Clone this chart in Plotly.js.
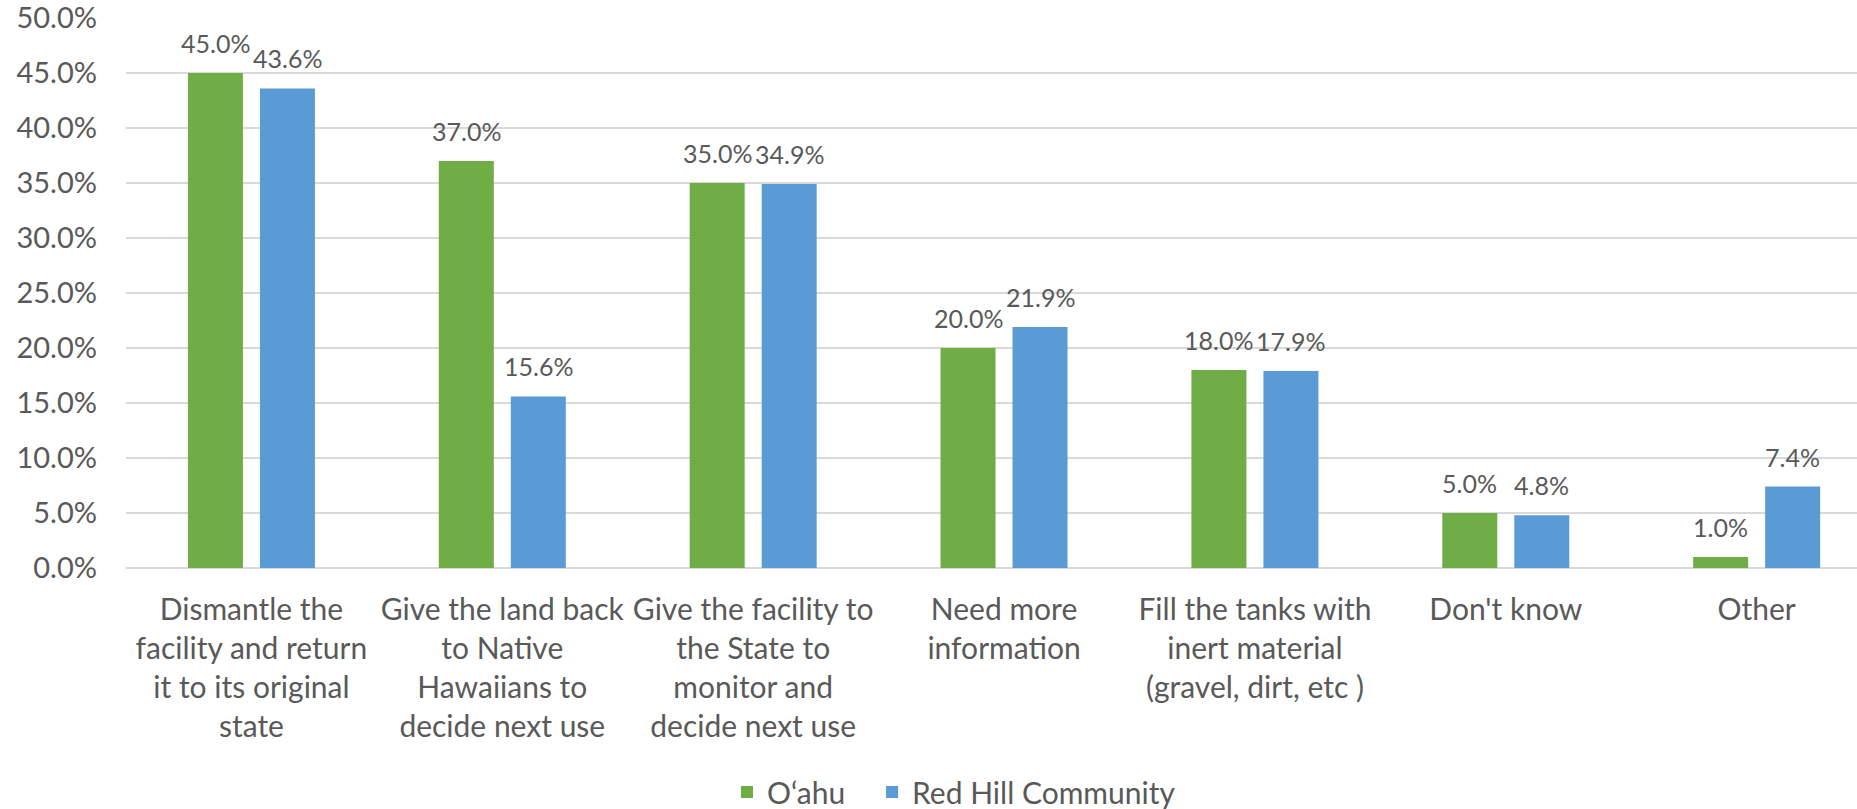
<!DOCTYPE html>
<html>
<head>
<meta charset="utf-8">
<script src="https://cdn.plot.ly/plotly-3.0.1.min.js"></script>
<style>html,body{margin:0;padding:0;background:#fff;}#chart{width:1857px;height:809px;}</style>
</head>
<body>
<div id="chart"></div>
<script>
const categories = [
  "Dismantle the<br>facility and return<br>it to its original<br>state",
  "Give the land back<br>to Native<br>Hawaiians to<br>decide next use",
  "Give the facility to<br>the State to<br>monitor and<br>decide next use",
  "Need more<br>information",
  "Fill the tanks with<br>inert material<br>(gravel, dirt, etc )",
  "Don't know",
  "Other"
];
const seriesNames = ["O\u2018ahu", "Red Hill Community"];
const oahu = [0.45, 0.37, 0.35, 0.20, 0.18, 0.05, 0.01];
const redHill = [0.436, 0.156, 0.349, 0.219, 0.179, 0.048, 0.074];
const yTicks = [0, 0.05, 0.10, 0.15, 0.20, 0.25, 0.30, 0.35, 0.40, 0.45, 0.50];

const colors = ["#70AD47", "#5B9BD5"];
const txt = "#595959";
const FONT = "Lato, 'Open Sans', sans-serif";
const bargap = 0.426, bargroupgap = 0.236;

const traces = [oahu, redHill].map((vals, i) => ({
  type: "bar",
  name: seriesNames[i],
  legend: i === 0 ? "legend" : "legend2",
  x: categories,
  y: vals,
  marker: {color: colors[i]},
  textposition: "none",
  hoverinfo: "skip"
}));

const slot = (1 - bargap) / 2;
const annotations = [];
[oahu, redHill].forEach((vals, s) => {
  vals.forEach((v, k) => {
    annotations.push({
      x: k + (s === 0 ? -slot / 2 : slot / 2),
      y: v,
      xref: "x", yref: "y",
      text: (v * 100).toFixed(1) + "%",
      showarrow: false,
      yanchor: "bottom",
      yshift: 13,
      font: {family: FONT, size: 25, color: txt}
    });
  });
});

const legendBase = {
  orientation: "h",
  xref: "container", xanchor: "left",
  yref: "container", y: 0.021, yanchor: "middle",
  font: {family: FONT, size: 30, color: txt},
  itemwidth: 30
};

const layout = {
  width: 1857, height: 809,
  margin: {l: 126, r: 0, t: 18, b: 241},
  paper_bgcolor: "#fff", plot_bgcolor: "#fff",
  barmode: "group",
  bargap: bargap, bargroupgap: bargroupgap,
  showlegend: true,
  legend: Object.assign({}, legendBase, {x: 0.3915}),
  legend2: Object.assign({}, legendBase, {x: 0.4696}),
  xaxis: {
    type: "category",
    range: [-0.5, 6.4],
    showgrid: false,
    showline: false,
    zeroline: false,
    ticks: "",
    tickangle: 0,
    ticklabelstandoff: 21,
    tickfont: {family: FONT, size: 30, color: txt}
  },
  yaxis: {
    range: [0, 0.5],
    tickvals: yTicks,
    tickformat: ".1%",
    showgrid: true,
    gridcolor: "#d9d9d9",
    gridwidth: 1.5,
    zeroline: true,
    zerolinecolor: "#d9d9d9",
    zerolinewidth: 1.5,
    showline: false,
    ticks: "",
    ticklabelstandoff: 28,
    ticklabeloverflow: "allow",
    automargin: false,
    tickfont: {family: FONT, size: 29, color: txt}
  },
  annotations: annotations
};

Plotly.newPlot("chart", traces, layout, {displayModeBar: false, staticPlot: true});
</script>
</body>
</html>
